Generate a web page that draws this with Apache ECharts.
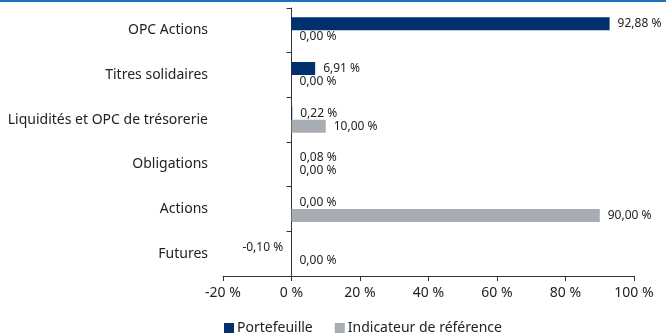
<!DOCTYPE html>
<html>
<head>
<meta charset="utf-8">
<script src="https://cdn.jsdelivr.net/npm/echarts@6/dist/echarts.min.js"></script>
<style>
  html, body { margin: 0; padding: 0; background: #fff; }
  #topline { position: absolute; left: 0; top: 0; width: 666px; height: 2px; background: #1f6fb8; }
  #chart { width: 666px; height: 336px; }
</style>
</head>
<body>
<div id="topline"></div>
<div id="chart"></div>
<script>
const categories = ['OPC Actions', 'Titres solidaires', 'Liquidités et OPC de trésorerie', 'Obligations', 'Actions', 'Futures'];
const portefeuille = [92.88, 6.91, 0.22, 0.08, 0.00, -0.10];
const indicateur = [0.00, 0.00, 10.00, 0.00, 90.00, 0.00];
const seriesNames = ['Portefeuille', 'Indicateur de référence'];
const xTicks = [-20, 0, 20, 40, 60, 80, 100];

const FONT = 'Noto Sans';
const fmt = v => v.toFixed(2).replace('.', ',') + ' %';

function makeSeries(name, values, color) {
  return {
    name: name,
    type: 'bar',
    yAxisIndex: 0,
    barWidth: 13,
    barGap: '0%',
    itemStyle: { color: color },
    data: values.map(v => ({
      value: v,
      label: { position: v < 0 ? 'left' : 'right' }
    })),
    label: {
      show: true,
      distance: 8,
      fontFamily: FONT,
      fontSize: 12,
      color: '#222',
      formatter: p => fmt(p.value)
    }
  };
}

const chart = echarts.init(document.getElementById('chart'), null, { renderer: 'canvas' });
chart.setOption({
  animation: false,
  grid: { left: 223, right: 32, top: 8, bottom: 60, containLabel: false },
  legend: {
    data: seriesNames,
    left: 219,
    top: 316,
    itemWidth: 10,
    itemHeight: 10,
    itemGap: 22,
    icon: 'rect',
    textStyle: { fontFamily: FONT, fontSize: 14, color: '#222', padding: [0, 0, 0, -2] }
  },
  xAxis: {
    type: 'value',
    min: xTicks[0],
    max: xTicks[xTicks.length - 1],
    interval: 20,
    splitLine: { show: false },
    axisLine: { show: true, onZero: false, lineStyle: { color: '#333' } },
    axisTick: { show: true, length: 5, lineStyle: { color: '#333' } },
    axisLabel: { fontFamily: FONT, fontSize: 14, color: '#222', margin: 10, formatter: v => v + ' %' }
  },
  yAxis: [
    {
      type: 'category',
      data: categories,
      inverse: true,
      axisLine: { show: true, onZero: true, lineStyle: { color: '#333' } },
      axisTick: { show: true, length: 5, lineStyle: { color: '#333' } },
      axisLabel: { show: false }
    },
    {
      type: 'category',
      data: categories,
      inverse: true,
      position: 'left',
      axisLine: { show: false, onZero: false },
      axisTick: { show: false },
      axisLabel: { fontFamily: FONT, fontSize: 14, color: '#222', margin: 15 }
    }
  ],
  series: [
    makeSeries(seriesNames[0], portefeuille, '#00306e'),
    makeSeries(seriesNames[1], indicateur, '#a7adb2')
  ]
});
</script>
</body>
</html>
